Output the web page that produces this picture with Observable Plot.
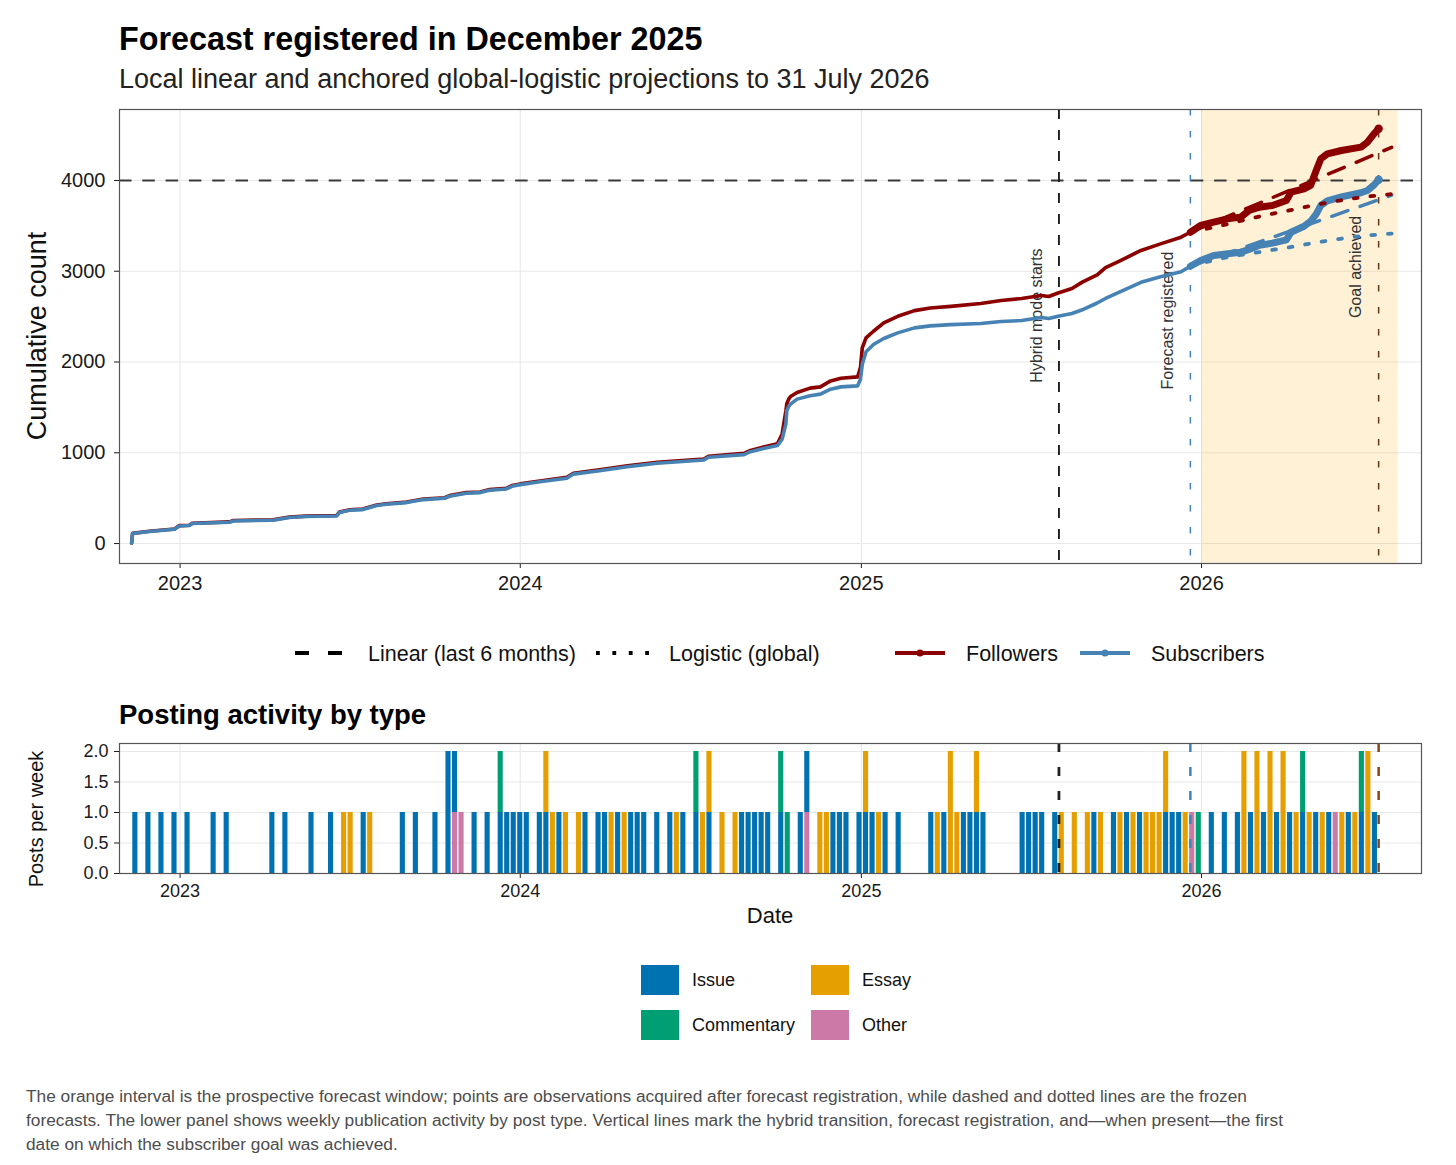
<!DOCTYPE html>
<html><head><meta charset="utf-8">
<script src="https://cdn.jsdelivr.net/npm/d3@7"></script>
<script src="https://cdn.jsdelivr.net/npm/@observablehq/plot@0.6"></script>
<style>
body{margin:0;background:#fff;}
#root{position:relative;width:1456px;height:1165px;font-family:"Liberation Sans",Arial,Helvetica,sans-serif;color:#000;overflow:hidden;background:#fff}
.abs{position:absolute;white-space:nowrap;line-height:1}
.rot{position:absolute;white-space:nowrap;line-height:1;transform:translate(-50%,-50%) rotate(-90deg)}
.sw{position:absolute;width:38px;height:30px}
</style></head><body><div id="root"></div>
<script>
// ---------------- data ----------------
const obsDates = [
"2022-11-10","2022-11-11","2022-11-29","2022-12-14","2022-12-26","2022-12-31",
"2023-01-11","2023-01-14","2023-02-23","2023-02-27","2023-04-11","2023-04-28",
"2023-05-16","2023-06-18","2023-06-21","2023-07-02","2023-07-16","2023-07-31",
"2023-08-10","2023-09-01","2023-09-19","2023-10-12","2023-10-17","2023-11-04",
"2023-11-19","2023-11-29","2023-12-17","2023-12-23","2024-01-01","2024-01-22",
"2024-02-20","2024-02-27","2024-03-24","2024-04-25","2024-05-27","2024-07-16",
"2024-07-21","2024-08-28","2024-09-04","2024-09-18","2024-10-03","2024-10-08",
"2024-10-12","2024-10-13","2024-10-15","2024-10-17","2024-10-24","2024-11-07",
"2024-11-18","2024-11-29","2024-12-10","2024-12-28","2024-12-31","2025-01-02",
"2025-01-06","2025-01-14","2025-01-25","2025-02-09","2025-02-27","2025-03-16",
"2025-04-07","2025-05-09","2025-05-31","2025-06-22","2025-07-13","2025-07-21",
"2025-07-31","2025-08-15","2025-08-26","2025-09-11","2025-09-20","2025-10-06",
"2025-10-28","2025-11-18","2025-12-10","2025-12-20","2025-12-31","2026-01-14",
"2026-01-29","2026-02-12","2026-02-21","2026-03-04","2026-03-18","2026-04-02",
"2026-04-07","2026-04-21","2026-04-28","2026-05-04","2026-05-09","2026-05-16",
"2026-05-31","2026-06-21","2026-06-28","2026-07-05","2026-07-10"];
const subscribers = [
5,110,132,147,158,194,
198,220,235,249,257,286,
297,304,341,367,374,418,
433,451,484,499,521,554,
561,587,601,631,649,680,
720,765,800,845,885,920,
950,980,1012,1048,1080,1150,
1318,1463,1510,1536,1591,1628,
1646,1701,1726,1737,1810,1974,
2113,2193,2259,2321,2376,2398,
2412,2424,2446,2457,2490,2480,
2505,2534,2575,2650,2700,2775,
2878,2940,2995,3055,3118,3174,
3192,3210,3240,3285,3310,3345,
3430,3495,3550,3630,3725,3775,
3820,3865,3890,3950,4008];
const followers = [
5,112,135,150,161,197,
202,224,239,253,262,291,
302,309,346,372,380,424,
439,457,490,505,528,561,
568,594,609,639,657,689,
730,775,810,856,896,932,
962,993,1026,1063,1098,1208,
1463,1540,1591,1620,1664,1712,
1726,1792,1821,1836,1938,2157,
2266,2339,2431,2504,2566,2595,
2613,2645,2678,2700,2733,2722,
2760,2810,2880,2960,3040,3118,
3229,3302,3375,3430,3504,3541,
3578,3596,3670,3706,3725,3780,
3871,3908,3945,4110,4239,4293,
4330,4367,4422,4514,4570];

const forecastDate = "2025-12-20";
const linDates = ["2025-12-20","2026-07-24"];
const linFollowers = [3430, 4365];
const linSubscribers = [3055, 3838];
const logDates = ["2025-12-20","2026-01-25","2026-02-28","2026-04-05","2026-05-09","2026-06-13","2026-07-24"];
const logFollowers = [3430, 3510, 3594, 3670, 3742, 3803, 3850];
const logSubscribers = [3055, 3146, 3205, 3264, 3325, 3377, 3415];

const goal = 4000;
const eventLabels = ["Hybrid mode starts", "Forecast registered", "Goal achieved"];
const eventDates = ["2025-08-01", "2025-12-20", "2026-07-10"];
const eventLabelY = [2512, 2457, 3047];
const windowStart = "2026-01-01", windowEnd = "2026-07-31";

const xDomain = ["2022-10-28", "2026-08-25"];
const yearTicks = ["2023-01-01", "2024-01-01", "2025-01-01", "2026-01-01"];
const countTicks = [0, 1000, 2000, 3000, 4000];
const weeklyTicks = [0, 0.5, 1, 1.5, 2];

const postTypes = ["Issue", "Commentary", "Essay", "Other"];
const typeColors = ["#0072B2", "#009E73", "#E69F00", "#CC79A7"];

// one entry per post; posts in the same week listed bottom first
const postWeek = [
"2022-11-14","2022-11-28","2022-12-12","2022-12-26","2023-01-09","2023-02-06","2023-02-20",
"2023-04-10","2023-04-24","2023-05-22","2023-06-12","2023-06-26","2023-07-03","2023-07-17",
"2023-07-24","2023-08-28","2023-09-11","2023-10-02","2023-10-16","2023-10-16","2023-10-23",
"2023-10-23","2023-10-30","2023-11-13","2023-11-27","2023-12-11","2023-12-11","2023-12-18",
"2023-12-25","2024-01-01","2024-01-08","2024-01-22","2024-01-29","2024-01-29","2024-02-05",
"2024-02-12","2024-02-19","2024-03-04","2024-03-11","2024-03-25","2024-04-01","2024-04-08",
"2024-04-15","2024-04-22","2024-04-29","2024-05-06","2024-05-13","2024-05-27","2024-06-10",
"2024-06-17","2024-06-24","2024-07-08","2024-07-08","2024-07-15","2024-07-22","2024-07-22",
"2024-08-05","2024-08-19","2024-08-26","2024-09-02","2024-09-09","2024-09-16","2024-09-23",
"2024-10-07","2024-10-07","2024-10-14","2024-10-28","2024-11-04","2024-11-04","2024-11-18",
"2024-11-25","2024-12-02","2024-12-09","2024-12-16","2024-12-30","2025-01-06","2025-01-06",
"2025-01-13","2025-01-20","2025-01-27","2025-02-10","2025-03-17","2025-03-24","2025-03-31",
"2025-04-07","2025-04-07","2025-04-14","2025-04-21","2025-04-28","2025-05-05","2025-05-05",
"2025-05-12","2025-06-23","2025-06-30","2025-07-07","2025-07-14","2025-07-28","2025-08-04",
"2025-08-18","2025-09-01","2025-09-08","2025-09-15","2025-09-29","2025-10-06","2025-10-13",
"2025-10-20","2025-10-27","2025-11-03","2025-11-10","2025-11-17","2025-11-24","2025-11-24",
"2025-12-01","2025-12-08","2025-12-15","2025-12-22","2025-12-29","2026-01-12","2026-01-26",
"2026-02-09","2026-02-16","2026-02-16","2026-02-23","2026-03-02","2026-03-02","2026-03-09",
"2026-03-16","2026-03-16","2026-03-23","2026-03-30","2026-03-30","2026-04-06","2026-04-13",
"2026-04-20","2026-04-20","2026-04-27","2026-05-04","2026-05-11","2026-05-18","2026-05-25",
"2026-06-01","2026-06-08","2026-06-15","2026-06-22","2026-06-22","2026-06-29","2026-06-29",
"2026-07-06"];
const postType = [
"Issue","Issue","Issue","Issue","Issue","Issue","Issue",
"Issue","Issue","Issue","Issue","Essay","Essay","Issue",
"Essay","Issue","Issue","Issue","Issue","Issue","Other",
"Issue","Other","Issue","Issue","Issue","Commentary","Issue",
"Issue","Issue","Issue","Issue","Issue","Essay","Essay",
"Issue","Essay","Essay","Issue","Issue","Issue","Essay",
"Issue","Essay","Issue","Issue","Issue","Issue","Issue",
"Essay","Issue","Issue","Commentary","Essay","Issue","Essay",
"Essay","Essay","Issue","Issue","Issue","Issue","Issue",
"Issue","Commentary","Commentary","Issue","Other","Issue","Essay",
"Essay","Issue","Issue","Issue","Issue","Issue","Essay",
"Issue","Essay","Issue","Issue","Issue","Essay","Issue",
"Essay","Essay","Essay","Issue","Issue","Issue","Essay",
"Issue","Issue","Issue","Issue","Issue","Issue","Essay",
"Essay","Essay","Issue","Essay","Issue","Essay","Issue",
"Essay","Issue","Essay","Essay","Essay","Issue","Essay",
"Issue","Issue","Essay","Other","Commentary","Issue","Issue",
"Issue","Essay","Essay","Issue","Essay","Essay","Issue",
"Essay","Essay","Issue","Essay","Essay","Issue","Essay",
"Issue","Commentary","Essay","Issue","Essay","Issue","Other",
"Essay","Issue","Essay","Issue","Commentary","Essay","Essay",
"Issue"];

// ---------------- helpers ----------------
const FONT = '"Liberation Sans", Arial, Helvetica, sans-serif';
const D = s => new Date(s + "T00:00:00Z");
const DAY = 864e5;
const root = document.getElementById("root");
function addDiv(cls, text, style) {
  const el = document.createElement("div");
  el.className = cls; el.textContent = text;
  Object.assign(el.style, style);
  root.appendChild(el); return el;
}
function place(svg, top) {
  Object.assign(svg.style, {position: "absolute", left: "0px", top: top + "px", margin: "0", maxWidth: "none"});
  root.appendChild(svg);
}
const RED = "#8B0000", BLUE = "#4682B4";

// ---------------- tables ----------------
const fDate = D(forecastDate);
const obs = obsDates.map((d, i) => ({date: D(d), fol: followers[i], sub: subscribers[i]}));
const pre = obs.filter(d => d.date <= fDate);
const post = obs.filter(d => d.date >= fDate);
const last = obs[obs.length - 1];
const lin = linDates.map((d, i) => ({date: D(d), fol: linFollowers[i], sub: linSubscribers[i]}));
const logi = logDates.map((d, i) => ({date: D(d), fol: logFollowers[i], sub: logSubscribers[i]}));
const events = eventLabels.map((l, i) => ({label: l, date: D(eventDates[i]), y: eventLabelY[i]}));
const counter = new Map();
const posts = postWeek.map((w, i) => {
  const k = counter.get(w) || 0; counter.set(w, k + 1);
  const c = D(w);
  return {x1: new Date(+c - 2.75 * DAY), x2: new Date(+c + 2.75 * DAY), y1: k, y2: k + 1, type: postType[i]};
});

const xOpts = {type: "utc", domain: xDomain.map(D), ticks: yearTicks.map(D), tickFormat: d3.utcFormat("%Y"), label: null};

// ---------------- titles ----------------
addDiv("abs", "Forecast registered in December 2025", {left: "119px", top: "23px", fontSize: "32.3px", fontWeight: "700", color: "#000"});
addDiv("abs", "Local linear and anchored global-logistic projections to 31 July 2026", {left: "119px", top: "66px", fontSize: "27px", color: "#222"});
addDiv("rot", "Cumulative count", {left: "37px", top: "336px", fontSize: "27px", color: "#111"});

// ---------------- top panel ----------------
const topPlot = Plot.plot({
  width: 1456, height: 503,
  marginLeft: 119, marginRight: 35, marginTop: 9, marginBottom: 40,
  style: {fontFamily: FONT, fontSize: "20px", color: "#1a1a1a", background: "transparent", overflow: "visible"},
  x: {...xOpts, tickSize: 5, tickPadding: 7},
  y: {domain: [-220, 4782], ticks: countTicks, tickFormat: d3.format("d"), tickSize: 5, tickPadding: 9, label: null},
  marks: [
    Plot.ruleX(yearTicks.map(D), {stroke: "#e8e8e8", strokeWidth: 1.1}),
    Plot.ruleY(countTicks, {stroke: "#e8e8e8", strokeWidth: 1.1}),
    Plot.rect([{a: D(windowStart), b: D(windowEnd)}], {x1: "a", x2: "b", y1: -220, y2: 4782, fill: "orange", fillOpacity: 0.16}),
    Plot.ruleY([goal], {stroke: "#3a3a3a", strokeWidth: 2.2, strokeDasharray: "12.5 10.8"}),
    Plot.ruleX([events[0]], {x: "date", stroke: "#1e1e1e", strokeWidth: 1.9, strokeDasharray: "10 11"}),
    Plot.ruleX([events[1]], {x: "date", stroke: BLUE, strokeWidth: 1.5, strokeDasharray: "6.5 15.5"}),
    Plot.ruleX([events[2]], {x: "date", stroke: "#6E3214", strokeWidth: 1.5, strokeDasharray: "6.5 15.5"}),
    Plot.text(events, {x: "date", y: "y", text: "label", rotate: -90, dx: -22.5, fontSize: 16, fill: "#333"}),
    Plot.line(pre, {x: "date", y: "fol", stroke: RED, strokeWidth: 3.6, strokeLinejoin: "round"}),
    Plot.line(pre, {x: "date", y: "sub", stroke: BLUE, strokeWidth: 3.6, strokeLinejoin: "round"}),
    Plot.line(post, {x: "date", y: "fol", stroke: RED, strokeWidth: 7, strokeLinejoin: "round", strokeLinecap: "round"}),
    Plot.line(post, {x: "date", y: "sub", stroke: BLUE, strokeWidth: 7, strokeLinejoin: "round", strokeLinecap: "round"}),
    Plot.dot([last], {x: "date", y: "fol", r: 4.2, fill: RED}),
    Plot.dot([last], {x: "date", y: "sub", r: 4.2, fill: BLUE}),
    Plot.line(lin, {x: "date", y: "fol", stroke: RED, strokeWidth: 3.5, strokeDasharray: "17 13"}),
    Plot.line(lin, {x: "date", y: "sub", stroke: BLUE, strokeWidth: 3.5, strokeDasharray: "17 13"}),
    Plot.line(logi, {x: "date", y: "fol", stroke: RED, strokeWidth: 3.8, strokeDasharray: "3.8 12.9", curve: "monotone-x"}),
    Plot.line(logi, {x: "date", y: "sub", stroke: BLUE, strokeWidth: 3.8, strokeDasharray: "3.8 12.9", curve: "monotone-x"}),
    Plot.frame({stroke: "#555", strokeWidth: 1.2})
  ]
});
place(topPlot, 100);

// ---------------- top legend ----------------
const ns = "http://www.w3.org/2000/svg";
const lg = document.createElementNS(ns, "svg");
lg.setAttribute("width", 1456); lg.setAttribute("height", 40);
Object.assign(lg.style, {position: "absolute", left: "0px", top: "633px"});
function ln(x1, x2, stroke, w, dash) {
  const l = document.createElementNS(ns, "line");
  l.setAttribute("x1", x1); l.setAttribute("x2", x2); l.setAttribute("y1", 20); l.setAttribute("y2", 20);
  l.setAttribute("stroke", stroke); l.setAttribute("stroke-width", w);
  if (dash) l.setAttribute("stroke-dasharray", dash);
  lg.appendChild(l);
}
function dt(cx, fill) {
  const c = document.createElementNS(ns, "circle");
  c.setAttribute("cx", cx); c.setAttribute("cy", 20); c.setAttribute("r", 3.6); c.setAttribute("fill", fill);
  lg.appendChild(c);
}
ln(295, 345, "#000", 4, "14 19");
ln(596, 650, "#000", 3.8, "3.8 12.6");
ln(895, 945, RED, 4); dt(920, RED);
ln(1080, 1130, BLUE, 4); dt(1105, BLUE);
root.appendChild(lg);
const legTop = "643.5px";
addDiv("abs", "Linear (last 6 months)", {left: "368px", top: legTop, fontSize: "21.5px", color: "#111"});
addDiv("abs", "Logistic (global)", {left: "669px", top: legTop, fontSize: "21.5px", color: "#111"});
addDiv("abs", "Followers", {left: "966px", top: legTop, fontSize: "21.5px", color: "#111"});
addDiv("abs", "Subscribers", {left: "1151px", top: legTop, fontSize: "21.5px", color: "#111"});

// ---------------- bottom panel ----------------
addDiv("abs", "Posting activity by type", {left: "119px", top: "701px", fontSize: "27.5px", fontWeight: "700", color: "#000"});
addDiv("rot", "Posts per week", {left: "36px", top: "819px", fontSize: "20px", color: "#111"});

const botPlot = Plot.plot({
  width: 1456, height: 168,
  marginLeft: 119, marginRight: 35, marginTop: 8, marginBottom: 30,
  style: {fontFamily: FONT, fontSize: "18px", color: "#1a1a1a", background: "transparent", overflow: "visible"},
  x: {...xOpts, tickSize: 5, tickPadding: 6},
  y: {domain: [0, 2.131], ticks: weeklyTicks, tickFormat: d3.format(".1f"), tickSize: 5, tickPadding: 6, label: null},
  color: {domain: postTypes, range: typeColors},
  marks: [
    Plot.ruleX(yearTicks.map(D), {stroke: "#e8e8e8", strokeWidth: 1.1}),
    Plot.ruleY(weeklyTicks, {stroke: "#e8e8e8", strokeWidth: 1.1}),
    Plot.rect(posts, {x1: "x1", x2: "x2", y1: "y1", y2: "y2", fill: "type"}),
    Plot.ruleX([events[0]], {x: "date", stroke: "#222", strokeWidth: 2.8, strokeDasharray: "9 15"}),
    Plot.ruleX([events[1]], {x: "date", stroke: BLUE, strokeWidth: 2.5, strokeDasharray: "9 15"}),
    Plot.ruleX([events[2]], {x: "date", stroke: "#8B4513", strokeWidth: 2.5, strokeDasharray: "9 15"}),
    Plot.frame({stroke: "#555", strokeWidth: 1.2})
  ]
});
place(botPlot, 735);
addDiv("abs", "Date", {left: "770px", top: "904.5px", fontSize: "22px", color: "#111", transform: "translateX(-50%)"});

// ---------------- bottom legend ----------------
const swPos = [[641, 965], [641, 1010], [811, 965], [811, 1010]];
postTypes.forEach((t, i) => {
  addDiv("sw", "", {left: swPos[i][0] + "px", top: swPos[i][1] + "px", background: typeColors[i]});
  addDiv("abs", t, {left: (swPos[i][0] + 51) + "px", top: (swPos[i][1] + 6.2) + "px", fontSize: "18px", color: "#111"});
});

// ---------------- caption ----------------
const cap = addDiv("abs", "", {left: "26px", top: "1084px", fontSize: "17.3px", lineHeight: "24px", color: "#4d4d4d"});
cap.innerHTML = "The orange interval is the prospective forecast window; points are observations acquired after forecast registration, while dashed and dotted lines are the frozen<br>forecasts. The lower panel shows weekly publication activity by post type. Vertical lines mark the hybrid transition, forecast registration, and\u2014when present\u2014the first<br>date on which the subscriber goal was achieved.";
</script></body></html>
